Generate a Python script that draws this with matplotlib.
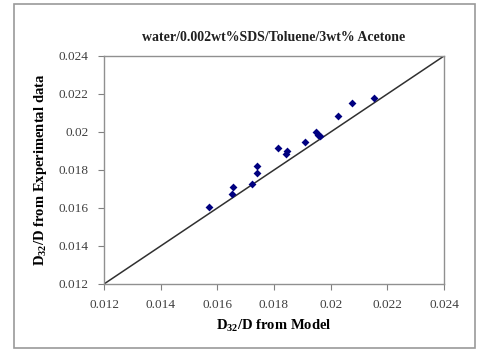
import matplotlib
matplotlib.use("Agg")
import matplotlib.pyplot as plt
from matplotlib.patches import Rectangle
from matplotlib.ticker import FuncFormatter
import numpy as np

plt.rcParams.update({
    'font.family': 'Liberation Serif',
    'mathtext.fontset': 'custom',
    'mathtext.rm': 'Liberation Serif:bold',
    'mathtext.it': 'Liberation Serif:bold',
    'mathtext.bf': 'Liberation Serif:bold',
})

# D32/D values: model (x) vs experimental (y)
model_vals = [0.0157, 0.01655, 0.01652, 0.01722, 0.0174, 0.0174,
              0.01814, 0.01845, 0.01842, 0.01909, 0.01948, 0.01955,
              0.01962, 0.02025, 0.02075, 0.02152]
exp_vals = [0.01605, 0.0171, 0.01674, 0.01726, 0.01821, 0.01784,
            0.01916, 0.0190, 0.01884, 0.01947, 0.0200, 0.01984,
            0.01978, 0.02084, 0.02153, 0.02179]
line_x = [0.012, 0.024]
ticks = [0.012, 0.014, 0.016, 0.018, 0.02, 0.022, 0.024]

fig = plt.figure(figsize=(4.79, 3.5), dpi=100)
ax = fig.add_axes([104 / 479, 1 - 284 / 350, 340 / 479, 228 / 350])

# outer chart border
fig.patches.append(Rectangle((14 / 479, 2 / 350), 461 / 479, 344 / 350,
                             transform=fig.transFigure, fill=False,
                             edgecolor='#9a9a9a', linewidth=1.2))

ax.plot(line_x, line_x, color='#303030', linewidth=1.1, zorder=2)
ax.scatter(model_vals, exp_vals, marker='D', s=16, color='#000080',
           zorder=3, linewidths=0)

ax.set_xlim(0.012, 0.024)
ax.set_ylim(0.012, 0.024)
ax.set_xticks(ticks)
ax.set_yticks(ticks)
fmt = FuncFormatter(lambda v, p: f"{v:g}")
ax.xaxis.set_major_formatter(fmt)
ax.yaxis.set_major_formatter(fmt)
ax.tick_params(direction='out', length=4, width=0.8, color='#808080',
               labelsize=9.5, labelcolor='#404040', pad=7)

for s in ax.spines.values():
    s.set_color('#909090')
    s.set_linewidth(1.0)

ax.set_xlabel(r'D$_{32}$/D from Model', fontsize=10.5, fontweight='bold', labelpad=5)
ax.set_ylabel(r'D$_{32}$/D from Experimental data', fontsize=10.5, fontweight='bold', labelpad=7)
ax.set_title('water/0.002wt%SDS/Toluene/3wt% Acetone', fontsize=10,
             fontweight='bold', pad=11, color='#202020')

fig.savefig('out.png', dpi=100, facecolor='white')
